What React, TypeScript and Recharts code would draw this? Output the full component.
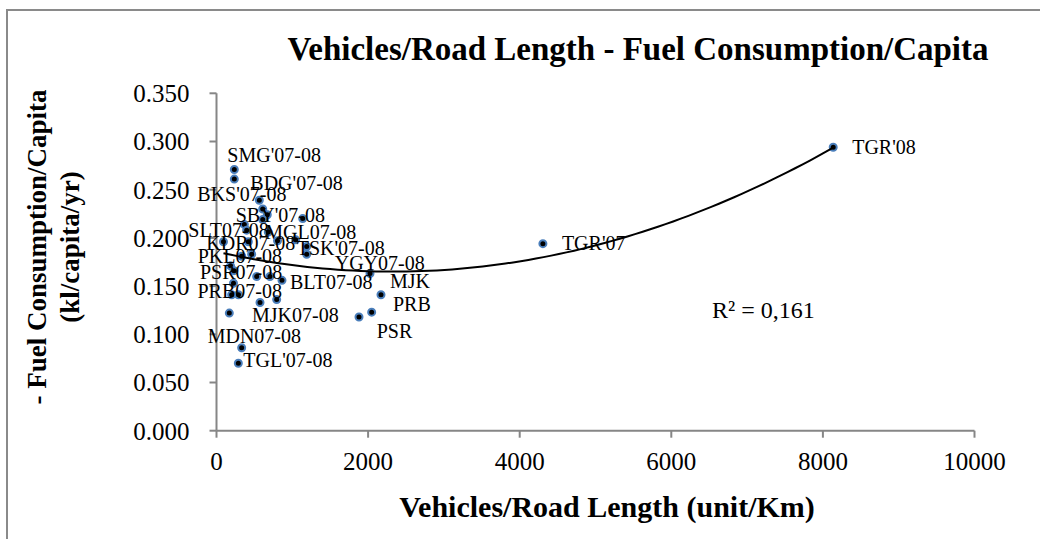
import React from 'react';
import { ScatterChart, Scatter, XAxis, YAxis } from 'recharts';

// city labels (blank = point without a label)
const pointLabels = [
  "SMG'07-08", "BDG'07-08", "BKS'07-08", "SBY'07-08", '', '', '', 'SLT07-08', '', 'MGL07-08',
  '', '', 'KDR07-08', '', "TSK'07-08", 'YGY07-08', 'PKL07-08', '', '', 'PSR07-08',
  'PRB07-08', '', '', 'BLT07-08', '', '', 'MJK07-08', '', '', 'MDN07-08',
  "TGL'07-08", 'MJK', 'PRB', 'PSR', '', "TGR'07", "TGR'08",
];

const vehiclesPerKm = [
  235, 235, 565, 610, 670, 610, 1137, 367, 398, 683,
  805, 1045, 420, 92, 1190, 1190, 332, 464, 185, 231,
  224, 530, 705, 864, 200, 290, 574, 794, 169, 332,
  288, 2025, 2170, 2047, 1880, 4306, 8136,
];

const fuelPerCapita = [
  0.271, 0.261, 0.239, 0.23, 0.224, 0.219, 0.22, 0.214, 0.208, 0.206,
  0.197, 0.198, 0.196, 0.196, 0.191, 0.183, 0.181, 0.183, 0.171, 0.166,
  0.153, 0.16, 0.16, 0.156, 0.141, 0.141, 0.133, 0.136, 0.122, 0.086,
  0.07, 0.163, 0.141, 0.123, 0.118, 0.194, 0.294,
];

const xTicks = [0, 2000, 4000, 6000, 8000, 10000];
const yTicks = [0, 0.05, 0.1, 0.15, 0.2, 0.25, 0.3, 0.35];

// where each label sits relative to its marker (dx to text start, dy to text middle)
const labelPlacement: [number, number][] = [
  [-7, -14], [16, 4], [-62, -6], [-27, 6], [19, 0], [19, 0], [19, 0], [-56, 6], [19, 0], [-3, 0],
  [19, 0], [19, 0], [-42, 2], [19, 0], [-10, 2], [28, 9], [-44, 0], [19, 0], [19, 0], [-34, 2],
  [-36, 8], [19, 0], [19, 0], [8, 2], [19, 0], [19, 0], [-8, 13], [19, 0], [19, 0], [-34, -11],
  [5, -3], [20, 8], [12, 10], [5, 19], [19, 0], [19, 0], [19, 0],
];

const points = vehiclesPerKm.map((x, i) => ({ x, y: fuelPerCapita[i], name: pointLabels[i], i }));

// least squares 2nd order polynomial, like the Excel trendline
function polyFit() {
  const t = vehiclesPerKm.map((v) => v / 1000);
  const s = [0, 0, 0, 0, 0];
  const r = [0, 0, 0];
  t.forEach((v, i) => {
    for (let k = 0; k < 5; k++) s[k] += Math.pow(v, k);
    for (let k = 0; k < 3; k++) r[k] += Math.pow(v, k) * fuelPerCapita[i];
  });
  const m = [
    [s[0], s[1], s[2], r[0]],
    [s[1], s[2], s[3], r[1]],
    [s[2], s[3], s[4], r[2]],
  ];
  for (let c = 0; c < 3; c++) {
    for (let rr = c + 1; rr < 3; rr++) {
      const f = m[rr][c] / m[c][c];
      for (let k = c; k < 4; k++) m[rr][k] -= f * m[c][k];
    }
  }
  const coef = [0, 0, 0];
  for (let c = 2; c >= 0; c--) {
    let v = m[c][3];
    for (let k = c + 1; k < 3; k++) v -= m[c][k] * coef[k];
    coef[c] = v / m[c][c];
  }
  return coef;
}

const coef = polyFit();
const xMin = Math.min(...vehiclesPerKm);
const xMax = Math.max(...vehiclesPerKm);
const trend = Array.from({ length: 81 }, (_, k) => {
  const x = xMin + ((xMax - xMin) * k) / 80;
  const t = x / 1000;
  return { x, y: coef[0] + coef[1] * t + coef[2] * t * t };
});

const serif = "'Liberation Serif', 'Times New Roman', serif";
const axisGray = '#868686';

const Marker = (props: any) => (
  <circle cx={props.cx} cy={props.cy} r={3.5} fill="#000" stroke="#4a7ebb" strokeWidth={2} />
);

const PointLabel = (props: any) => {
  const { cx, cy, payload } = props;
  if (!payload || !payload.name) return <g />;
  const [dx, dy] = labelPlacement[payload.i];
  return (
    <text x={cx + dx} y={cy + dy} dy="0.33em" fontFamily={serif} fontSize={20} fill="#000">
      {payload.name}
    </text>
  );
};

const tickStyle = { fontFamily: serif, fontSize: 25, fill: '#000' };

export default function App() {
  return (
    <div style={{ position: 'absolute', left: 0, top: 0, width: 1040, height: 539, background: '#fff', overflow: 'hidden' }}>
      <div
        style={{
          position: 'absolute',
          left: 6,
          top: 9,
          width: 1100,
          height: 600,
          border: '2px solid #8a8a8a',
        }}
      />
      <div style={{ position: 'absolute', left: 0, top: 0 }}>
        <ScatterChart width={1040} height={539} margin={{ top: 93.3, right: 65.5, bottom: 0, left: 0 }}>
          <XAxis
            type="number"
            dataKey="x"
            domain={[0, 10000]}
            ticks={xTicks}
            height={108.3}
            stroke={axisGray}
            strokeWidth={2}
            tickSize={7}
            tickMargin={15}
            tick={tickStyle}
          />
          <YAxis
            type="number"
            dataKey="y"
            domain={[0, 0.35]}
            ticks={yTicks}
            width={216.5}
            stroke={axisGray}
            strokeWidth={2}
            tickSize={7}
            tickMargin={20}
            tick={tickStyle}
            tickFormatter={(v: number) => v.toFixed(3)}
          />
          <Scatter data={points} shape={Marker} isAnimationActive={false} />
          <Scatter
            data={trend}
            line={{ stroke: '#000', strokeWidth: 2 }}
            lineType="joint"
            shape={() => <g />}
            isAnimationActive={false}
          />
          <Scatter data={points} shape={PointLabel} isAnimationActive={false} />
        </ScatterChart>
      </div>
      <svg width={1040} height={539} style={{ position: 'absolute', left: 0, top: 0, pointerEvents: 'none' }}>
        <text x={638} y={60} textAnchor="middle" fontFamily={serif} fontSize={33} fontWeight="bold">
          Vehicles/Road Length - Fuel Consumption/Capita
        </text>
        <text x={607} y={517} textAnchor="middle" fontFamily={serif} fontSize={30} fontWeight="bold">
          Vehicles/Road Length (unit/Km)
        </text>
        <text x={46} y={247} transform="rotate(-90 46 247)" textAnchor="middle" fontFamily={serif} fontSize={27} fontWeight="bold">
          - Fuel Consumption/Capita
        </text>
        <text x={79} y={247} transform="rotate(-90 79 247)" textAnchor="middle" fontFamily={serif} fontSize={27} fontWeight="bold">
          (kl/capita/yr)
        </text>
        <text x={712} y={318} fontFamily={serif} fontSize={24}>
          R² = 0,161
        </text>
      </svg>
    </div>
  );
}
